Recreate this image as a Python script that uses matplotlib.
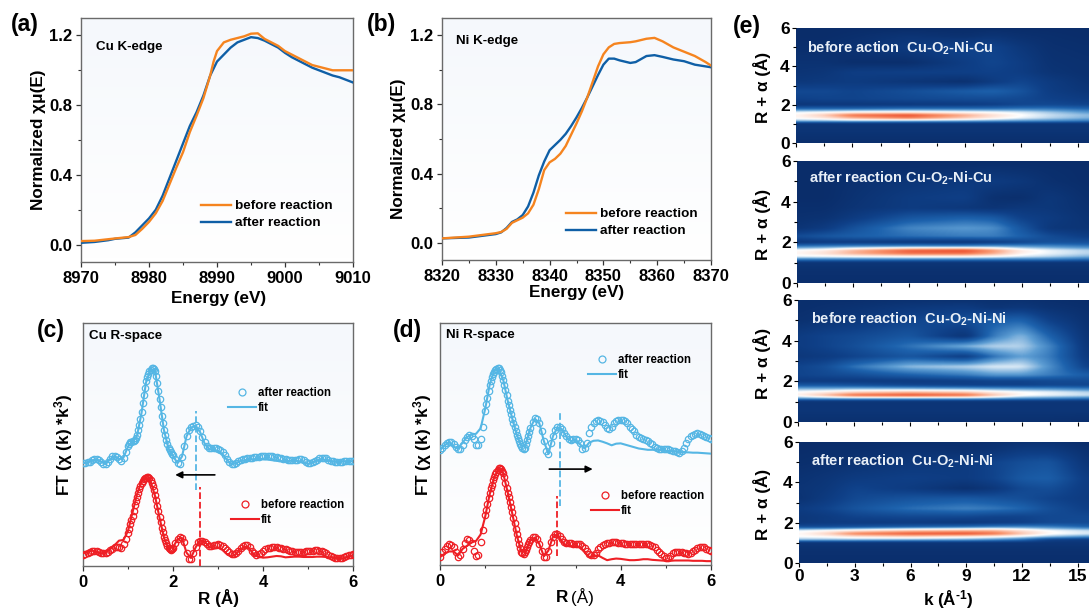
import numpy as np
import matplotlib
matplotlib.use("Agg")
import matplotlib.pyplot as plt
from matplotlib.colors import LinearSegmentedColormap
from matplotlib.lines import Line2D
from matplotlib.ticker import MultipleLocator

plt.rcParams['font.family'] = ['Liberation Sans', 'DejaVu Sans']
plt.rcParams['font.weight'] = 'bold'
plt.rcParams['mathtext.fontset'] = 'custom'
plt.rcParams['mathtext.rm'] = 'Liberation Sans:bold'
plt.rcParams['mathtext.bf'] = 'Liberation Sans:bold'
plt.rcParams['mathtext.it'] = 'Liberation Sans:bold'

W, H = 1089, 610

# (a) Cu K-edge
cu_e_before = [8970, 8972, 8975, 8977, 8978, 8979, 8980, 8981, 8982, 8983, 8984, 8985, 8986, 8987, 8988, 8989,
               8989.5, 8990, 8991, 8992, 8993, 8994, 8995, 8996, 8997, 8998, 8999, 9000, 9001, 9002, 9003, 9004,
               9005, 9006, 9007, 9008, 9010]
cu_before = [.02, .022, .035, .043, .055, .09, .13, .18, .25, .345, .44, .53, .645, .74, .84, .97,
             1.05, 1.11, 1.16, 1.175, 1.185, 1.195, 1.21, 1.212, 1.18, 1.16, 1.14, 1.11, 1.09, 1.07, 1.05, 1.03,
             1.02, 1.01, 1.0, 1.0, 1.0]
cu_e_after = [8970, 8972, 8974, 8975, 8977, 8978, 8979, 8980, 8981, 8982, 8983, 8984, 8985, 8986, 8987, 8988, 8989,
              8989.5, 8990, 8991, 8992, 8993, 8994, 8995, 8996, 8997, 8998, 8999, 9000, 9001, 9002, 9003, 9004,
              9005, 9006, 9007, 9008, 9009, 9010]
cu_after = [.01, .015, .025, .033, .04, .07, .11, .15, .2, .28, .38, .48, .58, .68, .76, .855, .97,
            1.01, 1.05, 1.09, 1.13, 1.16, 1.175, 1.19, 1.185, 1.17, 1.15, 1.13, 1.10, 1.075, 1.055, 1.035, 1.015,
            1.0, .985, .97, .96, .945, .93]

# (b) Ni K-edge
ni_e = [8320, 8325, 8330, 8331, 8332, 8333, 8334, 8335, 8336, 8337, 8338, 8339, 8340, 8341, 8342, 8343, 8344, 8345,
        8346, 8347, 8348, 8349, 8350, 8351, 8352, 8353, 8355, 8356, 8358, 8359.5, 8361, 8363, 8365, 8367, 8369, 8370]
ni_before = [.025, .035, .055, .062, .08, .115, .13, .145, .17, .22, .31, .42, .465, .485, .515, .56, .625, .69,
             .76, .84, .93, 1.02, 1.09, 1.13, 1.15, 1.155, 1.16, 1.165, 1.18, 1.185, 1.165, 1.13, 1.105, 1.08, 1.045, 1.025]
ni_after = [.025, .03, .05, .06, .085, .12, .135, .16, .21, .29, .39, .47, .535, .565, .595, .63, .675, .725,
            .78, .84, .905, .97, 1.03, 1.065, 1.065, 1.055, 1.04, 1.045, 1.08, 1.085, 1.075, 1.06, 1.05, 1.03, 1.02, 1.015]

# (c) Cu R-space, data points are read twice as fine between 1 and 2 angstrom
r_data = np.concatenate([np.arange(20) * 0.05, 1 + np.arange(40) * 0.025, 2 + np.arange(81) * 0.05])
r_fit = np.arange(61) * 0.1
cu_r_after = [3.10, 3.10, 3.11, 3.13, 3.17, 3.20, 3.21, 3.18, 3.13, 3.07, 3.05, 3.12, 3.22, 3.30, 3.31, 3.27, 3.20, 3.14, 3.25, 3.43,
              3.60, 3.66, 3.70, 3.72, 3.74, 3.75, 3.77, 3.83, 3.93, 4.06, 4.22, 4.41, 4.62, 4.87, 5.12, 5.34, 5.53, 5.66, 5.76, 5.83,
              5.88, 5.92, 5.93, 5.90, 5.83, 5.68, 5.48, 5.25, 5.00, 4.75, 4.50, 4.28, 4.08, 3.92, 3.78, 3.66, 3.55, 3.48, 3.42, 3.37,
              3.33, 3.20, 3.10, 3.06, 3.28, 3.60, 3.90, 4.08, 4.16, 4.20, 4.21, 4.15, 4.03, 3.85, 3.70, 3.60, 3.55, 3.53, 3.53, 3.53,
              3.52, 3.48, 3.42, 3.32, 3.21, 3.12, 3.06, 3.05, 3.10, 3.15, 3.18, 3.20, 3.21, 3.23, 3.24, 3.25, 3.26, 3.27, 3.28, 3.29,
              3.30, 3.30, 3.30, 3.30, 3.29, 3.28, 3.27, 3.25, 3.24, 3.22, 3.20, 3.19, 3.18, 3.18, 3.18, 3.19, 3.20, 3.20, 3.17, 3.13,
              3.09, 3.08, 3.11, 3.15, 3.19, 3.23, 3.25, 3.25, 3.23, 3.19, 3.16, 3.14, 3.13, 3.13, 3.13, 3.13, 3.14, 3.15, 3.16, 3.16,
              3.15]
cu_r_after_fit = [3.08, 3.10, 3.16, 3.20, 3.13, 3.05, 3.20, 3.30, 3.20, 3.25,
                  3.58, 3.72, 3.90, 4.58, 5.50, 5.90, 5.85, 5.00, 4.06, 3.52,
                  3.30, 3.08, 3.28, 3.88, 4.15, 4.20, 4.02, 3.68, 3.50, 3.48,
                  3.45, 3.35, 3.18, 3.04, 3.08, 3.15, 3.17, 3.19, 3.20, 3.21,
                  3.20, 3.19, 3.17, 3.15, 3.14, 3.14, 3.15, 3.16, 3.14, 3.09,
                  3.06, 3.10, 3.16, 3.20, 3.18, 3.14, 3.12, 3.12, 3.13, 3.14,
                  3.14]
cu_r_before = [.33, .36, .40, .43, .45, .46, .45, .42, .39, .38, .40, .43, .47, .52, .56, .58, .56, .55, .66, .80,
               .98, 1.10, 1.25, 1.37, 1.50, 1.66, 1.82, 1.96, 2.08, 2.20, 2.30, 2.40, 2.48, 2.55, 2.60, 2.63, 2.65, 2.67, 2.68, 2.64,
               2.58, 2.50, 2.40, 2.28, 2.13, 1.97, 1.80, 1.64, 1.48, 1.31, 1.15, 1.01, .88, .79, .70, .61, .53, .50, .48, .51,
               .55, .70, .80, .86, .84, .72, .38, .22, .22, .40, .58, .72, .76, .76, .72, .66, .60, .60, .62, .64,
               .65, .64, .60, .55, .48, .42, .36, .35, .38, .45, .54, .61, .63, .62, .56, .46, .38, .33, .35, .40,
               .45, .50, .54, .55, .56, .56, .56, .55, .54, .52, .50, .48, .46, .44, .43, .42, .42, .42, .43, .44,
               .45, .45, .46, .47, .47, .46, .44, .42, .38, .33, .30, .27, .25, .24, .23, .25, .28, .31, .33, .34,
               .35]
cu_r_before_fit = [.38, .42, .46, .42, .38, .42, .50, .62, .76, .78,
                   1.05, 1.60, 2.15, 2.52, 2.65, 2.55, 2.10, 1.45, .85, .52,
                   .56, .80, .84, .40, .24, .55, .78, .74, .58, .52,
                   .55, .48, .35, .28, .36, .50, .58, .52, .34, .28,
                   .25, .26, .28, .30, .29, .26, .27, .28, .28, .27,
                   .27, .27, .28, .28, .27, .26, .24, .22, .24, .27,
                   .33]

# (d) Ni R-space
ni_r_after = [3.57, 3.65, 3.73, 3.80, 3.83, 3.82, 3.77, 3.68, 3.62, 3.62, 3.72, 3.88, 3.98, 4.03, 4.02, 3.92, 3.72, 3.72, 3.90, 4.30,
              4.80, 5.00, 5.20, 5.40, 5.60, 5.73, 5.85, 5.93, 6.00, 6.05, 6.10, 6.12, 6.13, 6.07, 6.00, 5.88, 5.75, 5.60, 5.43, 5.27,
              5.10, 4.97, 4.83, 4.69, 4.55, 4.42, 4.30, 4.17, 4.05, 3.95, 3.85, 3.77, 3.70, 3.64, 3.60, 3.65, 3.75, 3.87, 4.00, 4.13,
              4.25, 4.45, 4.56, 4.55, 4.40, 4.15, 3.85, 3.55, 3.45, 3.80, 4.00, 4.20, 4.28, 4.30, 4.22, 4.10, 4.00, 3.90, 3.87, 3.90,
              3.93, 3.88, 3.78, 3.62, 3.65, 3.80, 4.10, 4.28, 4.40, 4.47, 4.50, 4.49, 4.45, 4.35, 4.25, 4.24, 4.30, 4.40, 4.47, 4.50,
              4.52, 4.52, 4.47, 4.40, 4.30, 4.22, 4.15, 4.05, 3.97, 3.94, 3.90, 3.87, 3.85, 3.80, 3.75, 3.68, 3.65, 3.62, 3.60, 3.60,
              3.60, 3.60, 3.58, 3.55, 3.53, 3.50, 3.47, 3.55, 3.65, 3.78, 3.90, 4.00, 4.05, 4.08, 4.10, 4.08, 4.05, 4.02, 3.98, 3.95,
              3.93]
ni_r_after_fit = [3.57, 3.72, 3.82, 3.68, 3.62, 3.80, 3.98, 4.05, 4.08, 4.25,
                  4.85, 5.60, 6.05, 6.10, 5.75, 5.10, 4.55, 4.05, 3.70, 3.75,
                  4.25, 4.55, 4.40, 3.85, 3.45, 4.00, 4.28, 4.22, 3.98, 3.85,
                  3.90, 3.75, 3.62, 3.80, 3.86, 3.87, 3.83, 3.78, 3.72, 3.77,
                  3.78, 3.74, 3.70, 3.66, 3.62, 3.60, 3.58, 3.58, 3.60, 3.57,
                  3.55, 3.54, 3.53, 3.50, 3.50, 3.50, 3.49, 3.49, 3.48, 3.47,
                  3.46]
ni_r_before = [.25, .40, .50, .60, .65, .62, .55, .40, .25, .30, .50, .68, .80, .78, .68, .45, .27, .32, .70, 1.10,
               1.55, 1.72, 1.90, 2.07, 2.25, 2.38, 2.50, 2.63, 2.75, 2.83, 2.90, 2.96, 3.00, 3.00, 2.98, 2.93, 2.85, 2.72, 2.55, 2.40,
               2.25, 2.10, 1.95, 1.80, 1.65, 1.47, 1.30, 1.12, .95, .80, .65, .52, .40, .36, .35, .40, .48, .56, .65, .72,
               .78, .87, .87, .80, .65, .42, .25, .24, .45, .72, .88, .97, .95, .90, .80, .72, .69, .67, .67, .66,
               .66, .66, .65, .60, .52, .42, .35, .30, .30, .38, .50, .57, .62, .66, .68, .69, .70, .70, .70, .69,
               .68, .67, .66, .65, .65, .65, .65, .65, .65, .66, .66, .66, .65, .63, .60, .55, .48, .40, .33, .27,
               .22, .21, .28, .38, .40, .40, .40, .40, .38, .36, .35, .38, .43, .48, .52, .55, .57, .55, .50, .46,
               .45]
ni_r_before_fit = [.25, .35, .42, .42, .30, .50, .60, .70, .75, .95,
                   1.50, 2.20, 2.72, 3.00, 2.85, 2.25, 1.60, .92, .42, .42,
                   .78, .85, .65, .27, .45, .88, .95, .72, .60, .58,
                   .58, .55, .40, .25, .28, .30, .22, .15, .18, .20,
                   .19, .17, .15, .15, .16, .18, .18, .16, .15, .14,
                   .13, .13, .14, .14, .14, .14, .13, .13, .13, .12,
                   .12]

# (e) wavelet maps, rows follow map_r, columns follow map_k
map_k = [0, 1.5, 3, 6, 9, 10.5, 12, 13.5, 15.6]
map_r = [0, .6, 1.0, 1.15, 1.3, 1.45, 1.6, 1.8, 2.0, 2.3, 2.7, 3.2, 3.7, 4.2, 5.0, 5.6, 6.0]
map_1 = [[.02, .02, .02, .02, .02, .02, .02, .02, .02],
         [.05, .05, .05, .05, .05, .05, .05, .05, .05],
         [.06, .06, .06, .06, .06, .06, .06, .06, .06],
         [.42, .42, .44, .42, .40, .38, .36, .34, .30],
         [.56, .62, .76, .88, .70, .60, .52, .46, .40],
         [.57, .70, .92, 1.0, .78, .64, .55, .48, .42],
         [.52, .54, .58, .60, .56, .54, .50, .44, .36],
         [.24, .24, .24, .26, .26, .26, .28, .28, .24],
         [.06, .07, .07, .08, .09, .11, .14, .15, .13],
         [.12, .13, .13, .15, .16, .16, .15, .12, .09],
         [.15, .15, .13, .17, .22, .24, .19, .10, .06],
         [.07, .08, .09, .06, .03, .09, .14, .09, .04],
         [.05, .06, .10, .11, .11, .12, .10, .05, .03],
         [.04, .04, .02, .02, .10, .14, .10, .04, .03],
         [.02, .02, .04, .09, .13, .13, .07, .03, .02],
         [.01, .01, .02, .05, .03, .05, .03, .02, .01],
         [.01, .01, .01, .01, .01, .01, .01, .01, .01]]
map_2 = [[.02, .02, .02, .02, .02, .02, .02, .02, .02],
         [.03, .03, .03, .03, .03, .03, .03, .03, .03],
         [.06, .06, .06, .06, .06, .06, .06, .06, .06],
         [.30, .30, .30, .30, .30, .30, .30, .30, .26],
         [.52, .53, .55, .58, .58, .55, .50, .46, .40],
         [.57, .64, .76, .92, .92, .78, .58, .52, .46],
         [.55, .60, .74, .96, 1.0, .82, .60, .52, .46],
         [.30, .32, .34, .36, .36, .38, .36, .34, .30],
         [.07, .09, .09, .07, .06, .09, .14, .18, .18],
         [.16, .20, .23, .27, .30, .30, .24, .16, .10],
         [.05, .09, .18, .32, .36, .34, .20, .07, .05],
         [.03, .04, .09, .20, .24, .22, .12, .09, .04],
         [.02, .02, .05, .09, .07, .05, .07, .07, .03],
         [.01, .01, .04, .09, .11, .03, .02, .07, .02],
         [.01, .01, .03, .06, .08, .09, .07, .03, .01],
         [.01, .01, .02, .02, .03, .04, .03, .02, .01],
         [.01, .01, .01, .01, .01, .01, .01, .01, .01]]
map_3 = [[.03, .03, .03, .03, .03, .03, .03, .03, .02],
         [.06, .06, .06, .06, .06, .06, .06, .06, .06],
         [.06, .06, .06, .06, .06, .06, .06, .06, .06],
         [.38, .40, .42, .42, .42, .40, .36, .34, .30],
         [.58, .74, .94, 1.0, .94, .72, .56, .52, .48],
         [.55, .60, .68, .74, .70, .60, .55, .52, .46],
         [.42, .42, .44, .44, .42, .40, .38, .36, .32],
         [.20, .20, .18, .14, .12, .12, .12, .14, .14],
         [.09, .09, .09, .09, .11, .13, .13, .15, .16],
         [.13, .15, .17, .24, .30, .36, .36, .30, .22],
         [.13, .17, .28, .42, .46, .50, .50, .34, .11],
         [.07, .09, .13, .20, .10, .28, .38, .30, .07],
         [.09, .13, .17, .28, .40, .46, .46, .32, .05],
         [.09, .13, .15, .20, .05, .30, .42, .24, .04],
         [.03, .05, .07, .13, .17, .22, .24, .11, .03],
         [.02, .03, .04, .07, .09, .05, .07, .04, .02],
         [.02, .02, .02, .03, .03, .03, .03, .02, .01]]
map_4 = [[.02, .02, .02, .02, .02, .02, .02, .02, .02],
         [.03, .03, .03, .03, .03, .03, .03, .03, .03],
         [.06, .06, .06, .06, .06, .06, .06, .06, .06],
         [.42, .42, .42, .40, .38, .34, .28, .12, .09],
         [.54, .56, .62, .66, .60, .56, .50, .42, .34],
         [.56, .68, .88, .98, 1.0, .92, .72, .56, .50],
         [.52, .56, .62, .72, .76, .76, .64, .54, .48],
         [.16, .16, .18, .22, .26, .30, .32, .30, .24],
         [.07, .09, .09, .09, .07, .09, .11, .15, .16],
         [.07, .09, .13, .15, .15, .13, .13, .15, .15],
         [.09, .13, .19, .27, .31, .29, .25, .17, .11],
         [.04, .09, .15, .19, .21, .19, .17, .13, .09],
         [.05, .07, .13, .09, .03, .07, .15, .17, .09],
         [.04, .06, .09, .11, .09, .13, .21, .23, .09],
         [.02, .03, .04, .07, .09, .13, .17, .19, .05],
         [.01, .02, .02, .04, .03, .05, .09, .09, .03],
         [.01, .01, .01, .02, .02, .03, .04, .04, .01]]
map_titles = ['before action  Cu-O$_{2}$-Ni-Cu', 'after reaction Cu-O$_{2}$-Ni-Cu',
              'before reaction  Cu-O$_{2}$-Ni-Ni', 'after reaction  Cu-O$_{2}$-Ni-Ni']

orange = '#f5841f'
blue = '#0f5fa6'
sky = '#55b6e4'
red = '#ee1f25'
map_cmap = LinearSegmentedColormap.from_list('map', [(0, '#0a2c68'), (.12, '#0f4088'), (.25, '#1d62ad'),
                                                     (.38, '#5d9dd3'), (.5, '#cfe3f3'), (.56, '#ffffff'),
                                                     (.7, '#fdd3c2'), (.85, '#f9966f'), (1, '#ee5a38')])
back_cmap = LinearSegmentedColormap.from_list('back', ['#ffffff', '#f5f8fc'])

fig = plt.figure(figsize=(W / 100, H / 100), dpi=100)


def fx(x):
    return x / W


def fy(y):
    return 1 - y / H


def make_axes(left, top, right, bottom):
    return fig.add_axes([fx(left), fy(bottom), (right - left) / W, (bottom - top) / H])


def style_line_axes(ax):
    ax.imshow(np.linspace(1, 0, 64)[:, None], extent=(0, 1, 0, 1), transform=ax.transAxes, cmap=back_cmap,
              aspect='auto', zorder=0)
    for s in ax.spines.values():
        s.set_color('#6a6a6a')
        s.set_linewidth(1)
    ax.tick_params(which='major', length=3.5, width=.9, labelsize=12, color='#333333', pad=3)
    ax.tick_params(which='minor', length=2, width=.8, color='#333333')


def add_legend(handles, labels, x, y, size, hlen, spacing, pad=.3):
    leg = fig.legend(handles, labels, loc='upper left', bbox_to_anchor=(fx(x), fy(y)), frameon=False, fontsize=size,
                     borderpad=0, borderaxespad=0, handlelength=hlen, handletextpad=pad, labelspacing=spacing,
                     numpoints=1)
    return leg


def xas_panel(box, e1, y1, e2, y2, xlim, step, text, text_xy, leg_xy, xlabel_xy, ylabel_xy):
    ax = make_axes(*box)
    style_line_axes(ax)
    ax.plot(e2, y2, color=blue, lw=1.7, zorder=3)
    ax.plot(e1, y1, color=orange, lw=1.7, zorder=4)
    ax.set_xlim(*xlim)
    ax.set_ylim(-.1, 1.3)
    ax.xaxis.set_major_locator(MultipleLocator(step))
    ax.xaxis.set_minor_locator(MultipleLocator(step / 2))
    ax.yaxis.set_major_locator(MultipleLocator(.4))
    ax.yaxis.set_minor_locator(MultipleLocator(.2))
    fig.text(fx(text_xy[0]), fy(text_xy[1]), text, fontsize=9.6, va='center')
    add_legend([Line2D([], [], color=orange, lw=1.7), Line2D([], [], color=blue, lw=1.7)],
               ['before reaction', 'after reaction'], leg_xy[0], leg_xy[1], 9.7, 2.2, .33)
    fig.text(fx(xlabel_xy[0]), fy(xlabel_xy[1]), 'Energy (eV)', fontsize=12.3, ha='center', va='center')
    fig.text(fx(ylabel_xy[0]), fy(ylabel_xy[1]), 'Normalized χμ(E)', fontsize=12.3, rotation=90,
             ha='center', va='center')
    return ax


def rspace_panel(box, ylim, after, after_fit, before, before_fit):
    ax = make_axes(*box)
    style_line_axes(ax)
    ax.plot(r_data, after, ls='none', marker='o', ms=4.6, mfc='none', mec=sky, mew=.9, zorder=3)
    ax.plot(r_fit, after_fit, color=sky, lw=1.5, zorder=4)
    ax.plot(r_data, before, ls='none', marker='o', ms=4.6, mfc='none', mec=red, mew=.9, zorder=3)
    ax.plot(r_fit, before_fit, color=red, lw=1.5, zorder=4)
    ax.set_xlim(0, 6)
    ax.set_ylim(*ylim)
    ax.set_yticks([])
    ax.xaxis.set_major_locator(MultipleLocator(2))
    ax.xaxis.set_minor_locator(MultipleLocator(1))
    return ax


def rspace_legend(color, label, x, y):
    add_legend([Line2D([], [], ls='none', marker='o', ms=5, mfc='none', mec=color, mew=.9),
                Line2D([], [], color=color, lw=1.5)], [label, 'fit'], x, y, 8.3, 2.45, .3, pad=.12)


def smooth_map(z):
    # resample the table on a fine grid, then blur it a little so no grid lines show
    fine_k = np.linspace(0, 15.6, 313)
    fine_r = np.linspace(0, 6, 241)
    a = np.array([np.interp(fine_k, map_k, row) for row in z])
    a = np.array([np.interp(fine_r, map_r, col) for col in a.T]).T
    for n, axis in [(13, 1), (13, 1), (3, 0), (3, 0)]:
        pad = [(0, 0), (0, 0)]
        pad[axis] = (n // 2, n // 2)
        b = np.pad(a, pad, mode='edge')
        a = np.apply_along_axis(lambda v: np.convolve(v, np.ones(n) / n, mode='valid'), axis, b)
    return a


# top row
xas_panel((81, 18, 353, 262), cu_e_before, cu_before, cu_e_after, cu_after, (8970, 9010), 10, 'Cu K-edge', (96, 47),
          (201, 200), (219, 299), (38, 140))
xas_panel((442, 18, 711, 260), ni_e, ni_before, ni_e, ni_after, (8320, 8370), 10, 'Ni K-edge', (456, 41),
          (566, 208), (577, 293), (398, 149))

# bottom row
ax_c = rspace_panel((83, 323, 353, 566), (0, 7.28), cu_r_after, cu_r_after_fit, cu_r_before, cu_r_before_fit)
ax_c.plot([2.5, 2.5], [2.28, 4.65], color=sky, ls='--', lw=1.3, zorder=5)
ax_c.plot([2.6, 2.6], [0, 2.38], color=red, ls='--', lw=1.3, zorder=5)
ax_c.annotate('', xy=(2.05, 2.73), xytext=(2.93, 2.73), zorder=6,
              arrowprops=dict(arrowstyle='-|>', color='black', lw=1.2, shrinkA=0, shrinkB=0))
ax_d = rspace_panel((440, 323, 711, 565), (0, 7.52), ni_r_after, ni_r_after_fit, ni_r_before, ni_r_before_fit)
ax_d.plot([2.655, 2.655], [1.82, 4.75], color=sky, ls='--', lw=1.3, zorder=5)
ax_d.plot([2.6, 2.6], [.27, 2.15], color=red, ls='--', lw=1.3, zorder=5)
ax_d.annotate('', xy=(3.38, 2.98), xytext=(2.42, 2.98), zorder=6,
              arrowprops=dict(arrowstyle='-|>', color='black', lw=1.2, shrinkA=0, shrinkB=0))

rspace_legend(sky, 'after reaction', 228, 387)
rspace_legend(red, 'before reaction', 231, 499)
rspace_legend(sky, 'after reaction', 588, 354)
rspace_legend(red, 'before reaction', 591, 490)

fig.text(fx(89), fy(336), 'Cu R-space', fontsize=9.6, va='center')
fig.text(fx(446), fy(335), 'Ni R-space', fontsize=9.6, va='center')
fig.text(fx(218), fy(598), 'R (Å)', fontsize=12.3, ha='center', va='center')
fig.text(fx(556), fy(597), 'R', fontsize=12.3, va='center')
fig.text(fx(571), fy(597), '(Å)', fontsize=12.3, va='center', fontweight='normal')
fig.text(fx(64), fy(445), 'FT (χ (k) *k$^{3}$)', fontsize=12.3, rotation=90, ha='center', va='center')
fig.text(fx(423), fy(445), 'FT (χ (k) *k$^{3}$)', fontsize=12.3, rotation=90, ha='center', va='center')

# maps on the right
map_boxes = [(796, 28, 1089, 143), (797, 161, 1089, 283), (798, 300, 1089, 422), (799, 442, 1089, 563)]
map_text = [(807, 48), (809, 178), (811, 319), (811, 461)]
for i, z in enumerate([map_1, map_2, map_3, map_4]):
    box = map_boxes[i]
    ax = make_axes(*box)
    ax.imshow(smooth_map(z), origin='lower', extent=(0, 15.6, 0, 6), aspect='auto', cmap=map_cmap,
              vmin=0, vmax=.97, interpolation='bilinear')
    ax.set_xlim(0, 15.6)
    ax.set_ylim(0, 6)
    for s in ax.spines.values():
        s.set_visible(False)
    ax.xaxis.set_major_locator(MultipleLocator(3))
    ax.xaxis.set_minor_locator(MultipleLocator(1.5))
    ax.yaxis.set_major_locator(MultipleLocator(2))
    ax.yaxis.set_minor_locator(MultipleLocator(1))
    ax.tick_params(which='major', length=3, width=.8, labelsize=12.5, pad=1.5)
    ax.tick_params(which='minor', length=2, width=.8)
    if i < 3:
        ax.tick_params(labelbottom=False)
    fig.text(fx(map_text[i][0]), fy(map_text[i][1]), map_titles[i], color='#e8eff7', fontsize=10.5, va='center')
    fig.text(fx(762), fy((box[1] + box[3]) / 2 + 2), 'R + α (Å)', fontsize=12.3, rotation=90, ha='center', va='center')
fig.text(fx(948), fy(600), 'k (Å$^{\\text{-1}}$)', fontsize=12.3, ha='center', va='center')

# panel letters
for label, x, y in [('(a)', 11, 25), ('(b)', 367, 25), ('(c)', 37, 331), ('(d)', 393, 330), ('(e)', 733, 26)]:
    fig.text(fx(x), fy(y), label, fontsize=16.5, va='center')

fig.savefig('out.png', dpi=100)
